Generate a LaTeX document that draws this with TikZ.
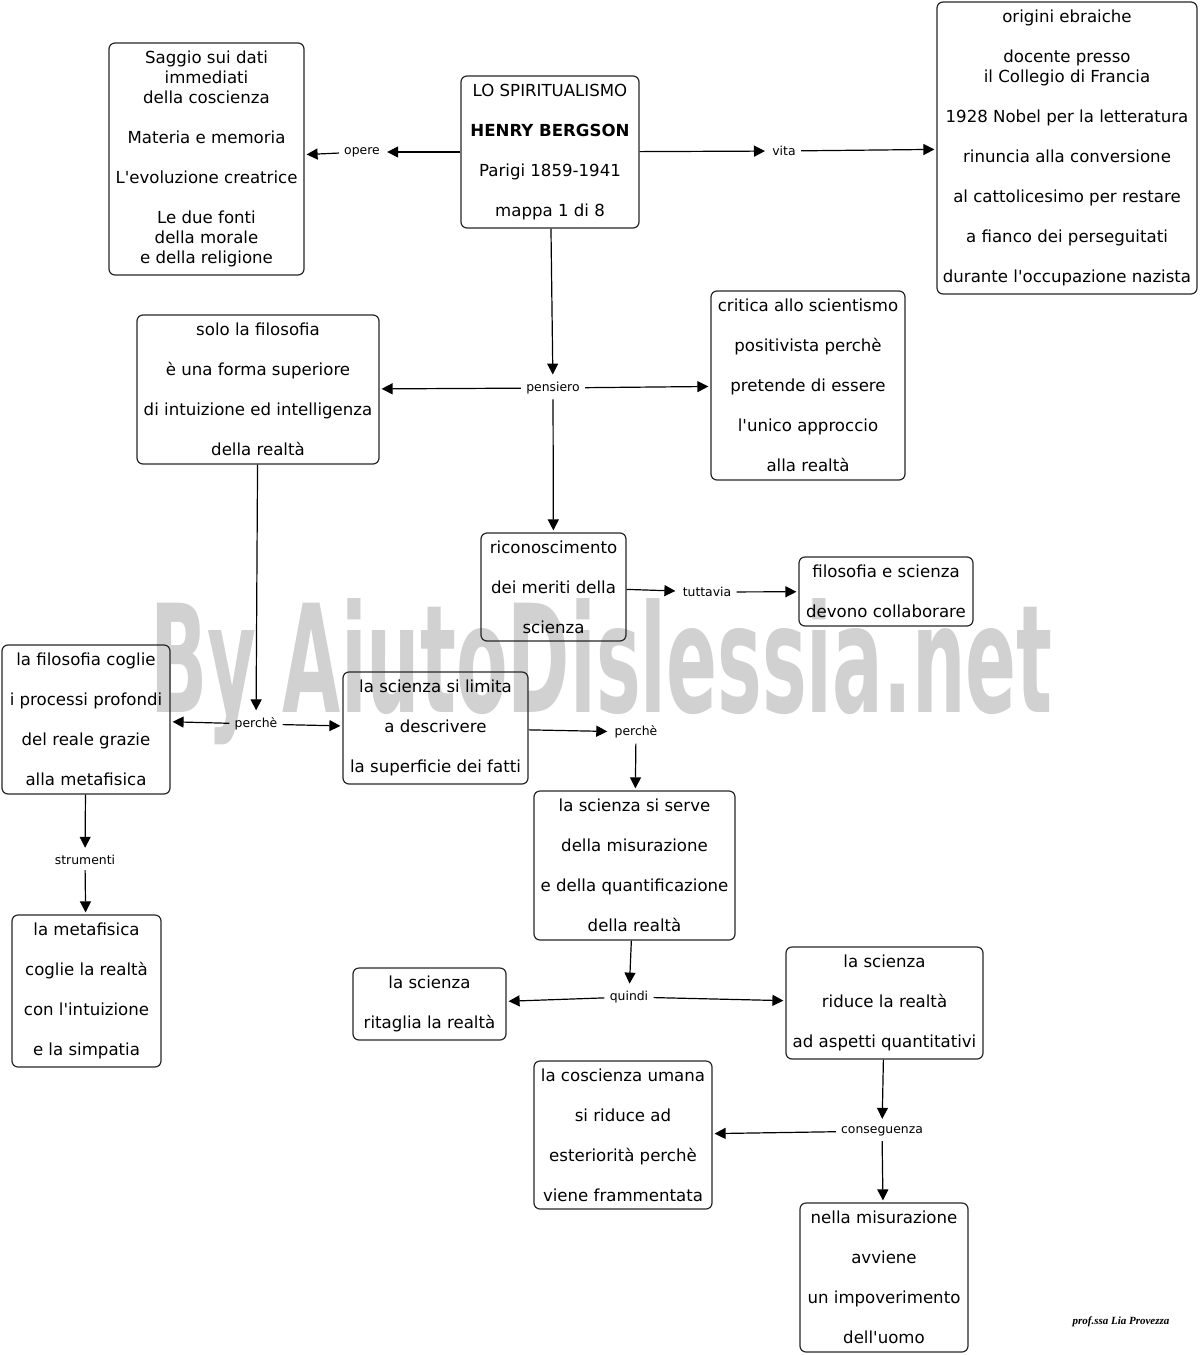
\documentclass[tikz,border=0pt]{standalone}
\usepackage{fontspec}
\setmainfont{DejaVu Sans}
\newfontfamily\signfont{Liberation Serif}
\usetikzlibrary{arrows.meta}
\newcommand{\apo}{\textquotesingle}

\begin{document}
\begin{tikzpicture}[x=0.5pt,y=-0.5pt,
  concept/.style={draw=black!85, line width=0.6pt, rounded corners=3pt, align=center,
    inner sep=0pt, font=\fontsize{8.3}{10}\selectfont},
  link/.style={inner sep=2.5pt, font=\fontsize{6.2}{7}\selectfont},
  conn/.style={-{Triangle[length=5.5pt,width=5.5pt]}, line width=0.6pt, shorten >=1pt}]
  \useasboundingbox (0,0) rectangle (1200,1355);
  \node[anchor=base west, inner sep=0pt, text=black!18] (mark) at (150,712)
    {\resizebox{451pt}{\height}{\fontsize{75}{75}\selectfont\bfseries By AiutoDislessia.net}};

  \node[concept, minimum width=89pt, minimum height=76pt] (main) at (550,152)
    {LO SPIRITUALISMO\\[10pt] \textbf{HENRY BERGSON}\\[10pt] Parigi 1859-1941\\[10pt] mappa 1 di 8};
  \node[concept, minimum width=97.5pt, minimum height=116pt] (works) at (206.5,159)
    {Saggio sui dati\\ immediati\\ della coscienza\\[10pt] Materia e memoria\\[10pt]
     L\apo evoluzione creatrice\\[10pt] Le due fonti\\ della morale\\ e della religione};
  \node[concept, minimum width=130pt, minimum height=146pt] (life) at (1067,148)
    {origini ebraiche\\[10pt] docente presso\\ il Collegio di Francia\\[10pt]
     1928 Nobel per la letteratura\\[10pt] rinuncia alla conversione\\[10pt]
     al cattolicesimo per restare\\[10pt] a fianco dei perseguitati\\[10pt]
     durante l\apo occupazione nazista};
  \node[concept, minimum width=121pt, minimum height=74.5pt] (philo) at (258,389.5)
    {solo la filosofia\\[10pt] è una forma superiore\\[10pt] di intuizione ed intelligenza\\[10pt] della realtà};
  \node[concept, minimum width=97pt, minimum height=94.5pt] (critic) at (808,385.5)
    {critica allo scientismo\\[10pt] positivista perchè\\[10pt] pretende di essere\\[10pt]
     l\apo unico approccio\\[10pt] alla realtà};
  \node[concept, minimum width=72.5pt, minimum height=54pt] (merit) at (553.5,587)
    {riconoscimento\\[10pt] dei meriti della\\[10pt] scienza};
  \node[concept, minimum width=87pt, minimum height=34.5pt] (collab) at (886,591.5)
    {filosofia e scienza\\[10pt] devono collaborare};
  \node[concept, minimum width=84pt, minimum height=74.5pt] (grasp) at (86,719.5)
    {la filosofia coglie\\[10pt] i processi profondi\\[10pt] del reale grazie\\[10pt] alla metafisica};
  \node[concept, minimum width=92.5pt, minimum height=56pt] (limit) at (435.5,728)
    {la scienza si limita\\[10pt] a descrivere\\[10pt] la superficie dei fatti};
  \node[concept, minimum width=100.5pt, minimum height=74.5pt] (measure) at (634.5,865.5)
    {la scienza si serve\\[10pt] della misurazione\\[10pt] e della quantificazione\\[10pt] della realtà};
  \node[concept, minimum width=74.5pt, minimum height=76pt] (meta) at (86.5,991)
    {la metafisica\\[10pt] coglie la realtà\\[10pt] con l\apo intuizione\\[10pt] e la simpatia};
  \node[concept, minimum width=76.5pt, minimum height=36pt] (cut) at (429.5,1004)
    {la scienza\\[10pt] ritaglia la realtà};
  \node[concept, minimum width=98.5pt, minimum height=56pt] (reduce) at (884.5,1003)
    {la scienza\\[10pt] riduce la realtà\\[10pt] ad aspetti quantitativi};
  \node[concept, minimum width=89pt, minimum height=74pt] (mind) at (623,1135)
    {la coscienza umana\\[10pt] si riduce ad\\[10pt] esteriorità perchè\\[10pt] viene frammentata};
  \node[concept, minimum width=84pt, minimum height=74.5pt] (poor) at (884,1277.5)
    {nella misurazione\\[10pt] avviene\\[10pt] un impoverimento\\[10pt] dell\apo uomo};

  \node[link] (lworks) at (362,152) {opere};
  \node[link] (llife) at (784,151) {vita};
  \node[link] (lthought) at (553,388) {pensiero};
  \node[link] (lyet) at (707,592) {tuttavia};
  \node[link] (lwhyA) at (256,724) {perchè};
  \node[link] (lwhyB) at (636,732) {perchè};
  \node[link] (ltools) at (85,860) {strumenti};
  \node[link] (lso) at (629,997) {quindi};
  \node[link] (lthen) at (882,1131) {conseguenza};

  \draw[conn] (main) -- (lworks);
  \draw[conn] (lworks) -- (works);
  \draw[conn] (main) -- (llife);
  \draw[conn] (llife) -- (life);
  \draw[conn] (main) -- (lthought);
  \draw[conn] (lthought) -- (philo);
  \draw[conn] (lthought) -- (critic);
  \draw[conn] (lthought) -- (merit);
  \draw[conn] (merit) -- (lyet);
  \draw[conn] (lyet) -- (collab);
  \draw[conn] (philo) -- (lwhyA);
  \draw[conn] (lwhyA) -- (grasp);
  \draw[conn] (lwhyA) -- (limit);
  \draw[conn] (limit) -- (lwhyB);
  \draw[conn] (lwhyB) -- (measure);
  \draw[conn] (grasp) -- (ltools);
  \draw[conn] (ltools) -- (meta);
  \draw[conn] (measure) -- (lso);
  \draw[conn] (lso) -- (cut);
  \draw[conn] (lso) -- (reduce);
  \draw[conn] (reduce) -- (lthen);
  \draw[conn] (lthen) -- (mind);
  \draw[conn] (lthen) -- (poor);

  \node[font=\signfont\itshape\bfseries\fontsize{5.5}{6}\selectfont] (sign) at (1121,1322) {prof.ssa Lia Provezza};
\end{tikzpicture}
\end{document}
